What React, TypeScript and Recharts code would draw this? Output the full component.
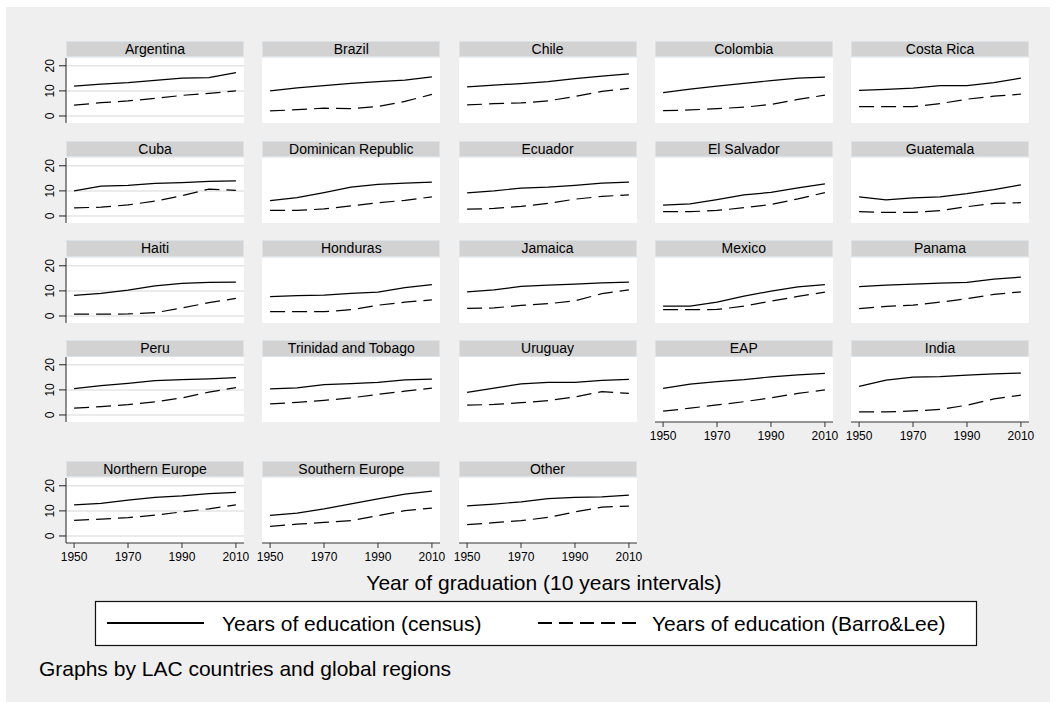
import { CartesianGrid, Line, LineChart, XAxis, YAxis } from "recharts";

const years = [1950, 1960, 1970, 1980, 1990, 2000, 2010];

const panelNames = [
  "Argentina", "Brazil", "Chile", "Colombia", "Costa Rica",
  "Cuba", "Dominican Republic", "Ecuador", "El Salvador", "Guatemala",
  "Haiti", "Honduras", "Jamaica", "Mexico", "Panama",
  "Peru", "Trinidad and Tobago", "Uruguay", "EAP", "India",
  "Northern Europe", "Southern Europe", "Other",
];

// years of education, census
const censusSeries = [
  [11.9, 12.7, 13.3, 14.2, 15.1, 15.3, 17.3],
  [10.0, 11.2, 12.1, 13.0, 13.7, 14.3, 15.6],
  [11.6, 12.3, 12.9, 13.7, 14.9, 15.9, 16.8],
  [9.3, 10.7, 11.9, 13.0, 14.1, 15.1, 15.5],
  [10.2, 10.6, 11.1, 12.1, 12.1, 13.3, 15.1],
  [10.0, 11.9, 12.2, 13.0, 13.3, 13.8, 14.0],
  [6.1, 7.3, 9.3, 11.5, 12.6, 13.1, 13.5],
  [9.2, 10.0, 11.1, 11.5, 12.2, 13.1, 13.5],
  [4.3, 4.8, 6.5, 8.4, 9.4, 11.2, 12.8],
  [7.6, 6.4, 7.2, 7.6, 8.9, 10.5, 12.4],
  [8.2, 9.0, 10.3, 12.0, 13.0, 13.4, 13.5],
  [7.7, 8.1, 8.3, 9.0, 9.5, 11.3, 12.5],
  [9.6, 10.4, 11.8, 12.3, 12.7, 13.2, 13.5],
  [3.9, 3.9, 5.5, 7.9, 9.9, 11.6, 12.5],
  [11.7, 12.3, 12.7, 13.1, 13.4, 14.7, 15.5],
  [10.5, 11.7, 12.6, 13.7, 14.1, 14.4, 14.9],
  [10.4, 10.8, 12.1, 12.5, 13.0, 14.0, 14.3],
  [9.0, 10.7, 12.4, 13.0, 13.0, 13.8, 14.2],
  [10.6, 12.3, 13.3, 14.1, 15.2, 16.0, 16.6],
  [11.4, 13.9, 15.1, 15.3, 15.9, 16.4, 16.7],
  [12.4, 13.0, 14.3, 15.4, 16.0, 16.9, 17.4],
  [8.2, 9.1, 10.8, 12.8, 14.8, 16.7, 17.9],
  [12.0, 12.7, 13.6, 14.9, 15.4, 15.6, 16.3],
];

// years of education, Barro & Lee
const barroLeeSeries = [
  [4.3, 5.3, 6.0, 7.0, 8.2, 9.0, 10.0],
  [2.0, 2.5, 3.1, 2.9, 3.8, 5.8, 8.6],
  [4.4, 4.9, 5.2, 6.0, 7.8, 9.8, 11.0],
  [2.1, 2.4, 2.9, 3.5, 4.6, 6.6, 8.3],
  [3.7, 3.7, 3.7, 4.9, 6.7, 7.9, 8.7],
  [3.2, 3.5, 4.4, 5.9, 8.1, 10.7, 10.2],
  [2.2, 2.2, 2.8, 4.0, 5.3, 6.2, 7.6],
  [2.7, 3.0, 3.8, 5.0, 6.7, 7.8, 8.4],
  [1.7, 1.7, 2.2, 3.3, 4.6, 6.8, 9.3],
  [1.7, 1.4, 1.4, 2.1, 3.7, 5.0, 5.3],
  [0.7, 0.7, 0.8, 1.3, 3.2, 5.3, 7.0],
  [1.7, 1.7, 1.7, 2.5, 4.3, 5.5, 6.4],
  [3.0, 3.2, 4.2, 4.9, 6.0, 8.9, 10.4],
  [2.5, 2.5, 2.6, 3.9, 5.9, 7.8, 9.5],
  [2.9, 3.8, 4.3, 5.5, 6.9, 8.6, 9.6],
  [2.7, 3.3, 4.1, 5.2, 6.8, 9.1, 10.9],
  [4.4, 5.0, 5.8, 6.8, 8.2, 9.5, 10.7],
  [3.9, 4.2, 4.9, 5.7, 7.2, 9.3, 8.6],
  [1.5, 2.7, 4.0, 5.3, 6.8, 8.6, 10.0],
  [1.2, 1.2, 1.6, 2.2, 3.9, 6.4, 7.9],
  [6.2, 6.7, 7.3, 8.3, 9.6, 10.8, 12.4],
  [3.8, 4.7, 5.4, 6.1, 8.1, 10.1, 11.1],
  [4.5, 5.3, 6.1, 7.4, 9.6, 11.5, 11.9],
];

const yTicks = [0, 10, 20];
const xTicks = [1950, 1970, 1990, 2010];
const legendLabels = ["Years of education (census)", "Years of education (Barro&Lee)"];
const xTitle = "Year of graduation (10 years intervals)";
const byNote = "Graphs by LAC countries and global regions";

const FONT = '"Liberation Sans", Arial, Helvetica, sans-serif';
const colLefts = [66, 262.3, 458.5, 654.8, 851];
const rowTops = [40.7, 140.5, 240.3, 340.1, 460.7];
const PANEL_W = 178;
const PLOT_H = 65;
const AXIS_W = 30;
const RIGHT_PAD = 16;

const YTick = (props: any) => {
  const { x, y, payload } = props;
  const cx = x - 7;
  return (
    <text
      x={cx}
      y={y}
      transform={`rotate(-90 ${cx} ${y})`}
      textAnchor="middle"
      dominantBaseline="central"
      fontSize={12}
      fill="#000"
      fontFamily={FONT}
    >
      {payload.value}
    </text>
  );
};

const Panel = ({ index }: { index: number }) => {
  const col = index % 5;
  const row = Math.floor(index / 5);
  const left = colLefts[col];
  const top = rowTops[row];
  const showX = index >= 18;
  const showY = col === 0;
  const data = years.map((year, i) => ({
    year,
    census: censusSeries[index][i],
    barro: barroLeeSeries[index][i],
  }));

  return (
    <>
      <div
        style={{
          position: "absolute",
          left,
          top,
          width: PANEL_W,
          height: 16.6,
          boxSizing: "border-box",
          background: "#d2d2d2",
          border: "1px solid #dce3e8",
          fontSize: 14,
          lineHeight: "14.6px",
          textAlign: "center",
          color: "#000",
        }}
      >
        {panelNames[index]}
      </div>
      <div style={{ position: "absolute", left: left - AXIS_W, top: top + 17.3 }}>
        <LineChart
          width={PANEL_W + AXIS_W + RIGHT_PAD}
          height={PLOT_H + (showX ? 30 : 0)}
          data={data}
          margin={{ top: 0, right: RIGHT_PAD, bottom: 0, left: 0 }}
        >
          <CartesianGrid vertical={false} fill="#fff" stroke="#e4e4e4" strokeWidth={1.5} horizontalValues={yTicks} />
          <XAxis
            dataKey="year"
            type="number"
            domain={[1947, 2013]}
            ticks={xTicks}
            interval={0}
            allowDataOverflow
            hide={!showX}
            height={30}
            tickSize={5}
            tickMargin={4}
            axisLine={{ stroke: "#333" }}
            tickLine={{ stroke: "#333" }}
            tick={{ fontSize: 12, fill: "#000", fontFamily: FONT }}
          />
          <YAxis
            type="number"
            domain={[-2.8, 23.1]}
            ticks={yTicks}
            interval={0}
            allowDataOverflow
            width={AXIS_W}
            tickSize={7}
            axisLine={showY ? { stroke: "#222" } : false}
            tickLine={showY ? { stroke: "#222" } : false}
            tick={showY ? <YTick /> : false}
          />
          <Line
            type="linear"
            dataKey="census"
            stroke="#000"
            strokeWidth={1.2}
            dot={false}
            activeDot={false}
            isAnimationActive={false}
          />
          <Line
            type="linear"
            dataKey="barro"
            stroke="#000"
            strokeWidth={1.2}
            strokeDasharray="15 7"
            dot={false}
            activeDot={false}
            isAnimationActive={false}
          />
        </LineChart>
      </div>
    </>
  );
};

export default function App() {
  return (
    <div
      style={{
        position: "absolute",
        left: 0,
        top: 0,
        width: 1058,
        height: 703,
        background: "#fff",
        fontFamily: FONT,
        overflow: "hidden",
      }}
    >
      <div style={{ position: "absolute", left: 6, top: 7, width: 1044, height: 695, background: "#efefef" }} />
      {panelNames.map((_, i) => (
        <Panel key={panelNames[i]} index={i} />
      ))}
      <svg width={1058} height={703} style={{ position: "absolute", left: 0, top: 0, pointerEvents: "none" }}>
        <text x={544} y={582} textAnchor="middle" dominantBaseline="central" fontSize={21} fill="#000" fontFamily={FONT}>
          {xTitle}
        </text>
        <rect x={95.5} y={601.5} width={881} height={44} fill="#fff" stroke="#111" strokeWidth={1.2} />
        <line x1={107} y1={623} x2={204} y2={623} stroke="#000" strokeWidth={1.8} />
        <text x={222} y={623} dominantBaseline="central" fontSize={21} fill="#000" fontFamily={FONT}>
          {legendLabels[0]}
        </text>
        <line x1={538} y1={623} x2={638} y2={623} stroke="#000" strokeWidth={1.8} strokeDasharray="14 7" />
        <text x={652} y={623} dominantBaseline="central" fontSize={21} fill="#000" fontFamily={FONT}>
          {legendLabels[1]}
        </text>
        <text x={39} y={668} dominantBaseline="central" fontSize={21} fill="#000" fontFamily={FONT}>
          {byNote}
        </text>
      </svg>
    </div>
  );
}
